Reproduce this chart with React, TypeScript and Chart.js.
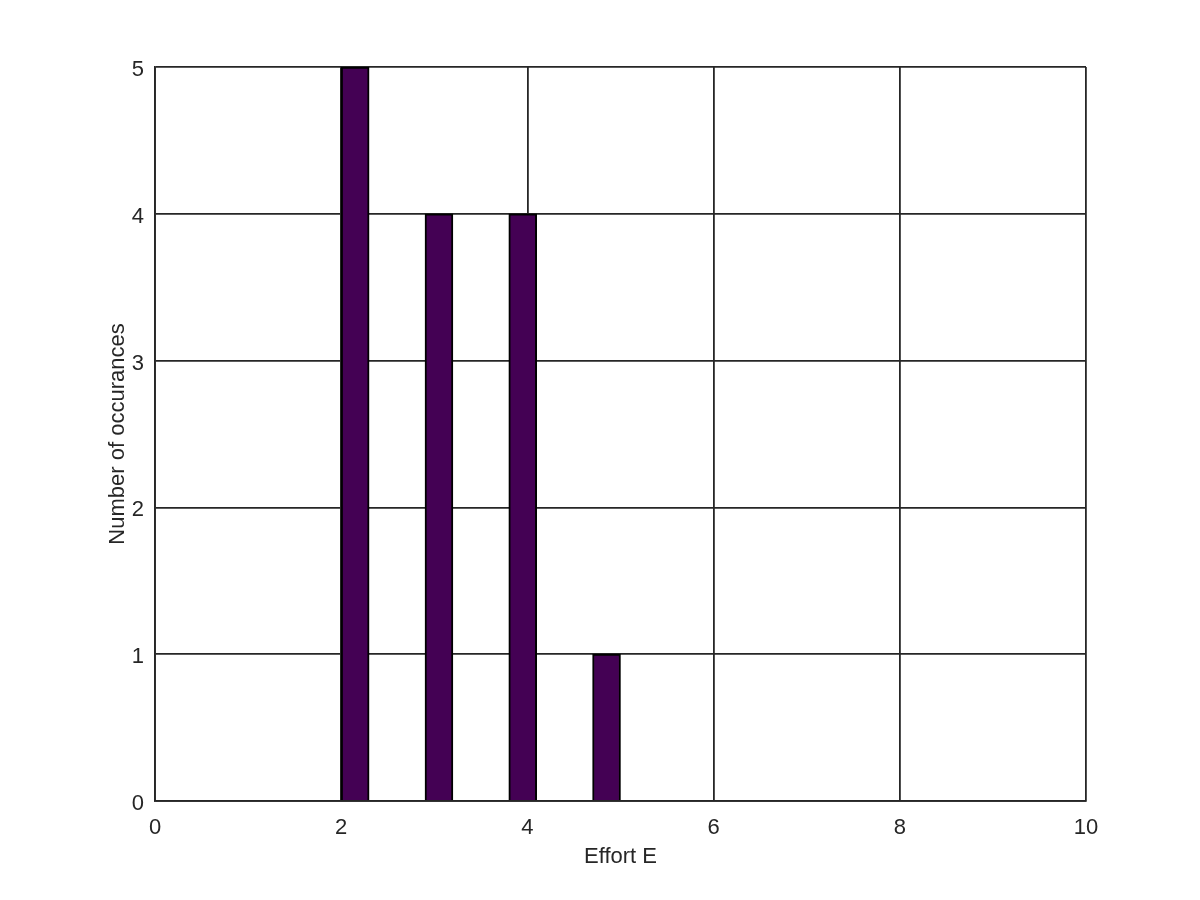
import React, { useEffect, useRef } from "react";
import { Chart, registerables } from "chart.js";

Chart.register(...registerables);

// Histogram bins (centers) and counts
const binCenters = [2.15, 2.45, 2.75, 3.05, 3.35, 3.65, 3.95, 4.25, 4.55, 4.85];
const counts = [5, 0, 0, 4, 0, 0, 4, 0, 0, 1];
const xTicks = [0, 2, 4, 6, 8, 10];
const yTicks = [0, 1, 2, 3, 4, 5];
const xLabel = "Effort E";
const yLabel = "Number of occurances";

const INK = "#262626";
const FONT = "'Liberation Sans', Arial, Helvetica, sans-serif";
const FS = 22;

export default function App() {
  const ref = useRef<HTMLCanvasElement | null>(null);

  useEffect(() => {
    if (!ref.current) return;
    const data = binCenters.map((c, i) => ({ x: c, y: counts[i] }));
    const chart = new Chart(ref.current, {
      type: "bar",
      data: {
        datasets: [
          {
            data,
            backgroundColor: "#440154",
            borderColor: "#000000",
            borderWidth: 2,
            barPercentage: 1,
            categoryPercentage: 1,
          },
        ],
      },
      options: {
        animation: false,
        responsive: false,
        maintainAspectRatio: false,
        layout: { padding: { left: 105, right: 114, top: 67, bottom: 30 } },
        plugins: { legend: { display: false }, tooltip: { enabled: false } },
        scales: {
          x: {
            type: "linear",
            min: xTicks[0],
            max: xTicks[xTicks.length - 1],
            offset: false,
            afterBuildTicks: (s: any) => {
              s.ticks = xTicks.map((v) => ({ value: v }));
            },
            afterFit: (s: any) => {
              s.height = 69;
            },
            grid: { color: INK, lineWidth: 1.8, drawTicks: false, offset: false },
            border: { display: true, color: INK, width: 1.8 },
            ticks: {
              color: INK,
              font: { family: FONT, size: FS },
              padding: 14,
              maxRotation: 0,
              autoSkip: false,
            },
            title: {
              display: true,
              text: xLabel,
              color: INK,
              font: { family: FONT, size: FS },
              padding: 0,
            },
          },
          y: {
            type: "linear",
            min: yTicks[0],
            max: yTicks[yTicks.length - 1],
            afterBuildTicks: (s: any) => {
              s.ticks = yTicks.map((v) => ({ value: v }));
            },
            afterFit: (s: any) => {
              s.width = 50;
            },
            grid: { color: INK, lineWidth: 1.8, drawTicks: false },
            border: { display: true, color: INK, width: 1.8 },
            ticks: {
              color: INK,
              font: { family: FONT, size: FS },
              padding: 11,
              labelOffset: 3,
              autoSkip: false,
            },
            title: {
              display: true,
              text: yLabel,
              color: INK,
              font: { family: FONT, size: FS },
              padding: 0,
            },
          },
        },
      },
    });
    return () => chart.destroy();
  }, []);

  return (
    <div style={{ position: "fixed", left: 0, top: 0, width: 1200, height: 900, background: "#fff" }}>
      <canvas ref={ref} width={1200} height={900} style={{ width: 1200, height: 900, display: "block" }} />
    </div>
  );
}
